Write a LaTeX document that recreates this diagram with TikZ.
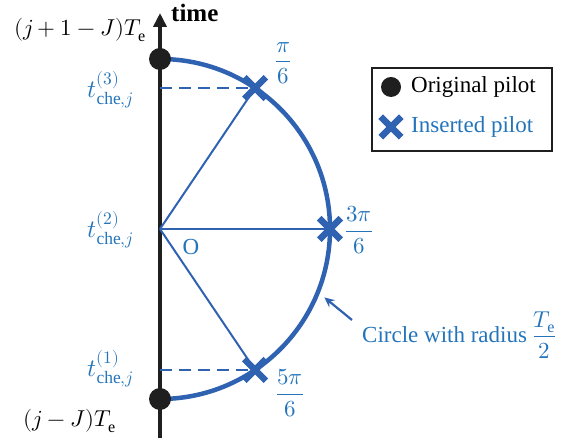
\documentclass[tikz,border=0pt]{standalone}
\usepackage{fontspec}
\usepackage{unicode-math}
\setmainfont{Liberation Serif}
\setmathfont{Latin Modern Math}
\usetikzlibrary{shapes.misc,arrows.meta}
\definecolor{sblue}{RGB}{47,99,178}
\definecolor{tblue}{RGB}{35,116,186}
\begin{document}
\begin{tikzpicture}[x=1pt,y=1pt,
  every node/.style={font=\fontsize{23}{27}\selectfont, inner sep=0pt},
  dot/.style={circle, fill=black!88, minimum size=22pt},
  xmark/.style={cross out, draw=sblue, line width=6.5pt, minimum size=15pt},
  spoke/.style={draw=sblue, line width=2pt},
  dashline/.style={draw=sblue, line width=2.5pt, dash pattern=on 12pt off 7pt},
  bluetext/.style={text=tblue},
]
\useasboundingbox (0,0) rectangle (580,443);
% axis
\coordinate (axb) at (160,5);
\coordinate (axt) at (160,430);
\draw[line width=4.5pt, black!88, -{Triangle[width=13pt,length=14pt]}] (axb) -- (axt);
\node[anchor=west, font=\fontsize{25}{29}\selectfont\bfseries] (time) at (171,430) {time};
% circle
\coordinate (O) at (160,214);
\draw[sblue, line width=4.5pt] (160,384) arc[start angle=90, end angle=-90, radius=170];
% crosses positions
\path (O) ++(56:170) coordinate (pa);
\path (O) ++(0:170) coordinate (pb);
\path (O) ++(-56:170) coordinate (pc);
\path (pa) -| coordinate (ya) (O);
\path (pc) -| coordinate (yc) (O);
% dashed
\draw[dashline] (ya) -- (pa);
\draw[dashline] (yc) -- (pc);
% spokes
\draw[spoke] (O) -- (pa);
\draw[spoke] (O) -- (pb);
\draw[spoke] (O) -- (pc);
% dots
\node[dot] (dtop) at (160,384) {};
\node[dot] (dbot) at (160,44) {};
% crosses
\node[xmark] (xa) at (pa) {};
\node[xmark] (xb) at (pb) {};
\node[xmark] (xc) at (pc) {};
% labels
\node[anchor=east] (ltop) at (146,413) {$(j+1-J)T_{\mathrm{e}}$};
\node[anchor=east] (lbot) at (116,22) {$(j-J)T_{\mathrm{e}}$};
\node[anchor=east, bluetext, font=\fontsize{25}{29}\selectfont] (t3) at (134,353) {$t_{\mathrm{che},j}^{(3)}$};
\node[anchor=east, bluetext, font=\fontsize{25}{29}\selectfont] (t2) at (134,213) {$t_{\mathrm{che},j}^{(2)}$};
\node[anchor=east, bluetext, font=\fontsize{25}{29}\selectfont] (t1) at (134,74) {$t_{\mathrm{che},j}^{(1)}$};
\node[bluetext] (Olab) at (191,196) {O};
\node[bluetext] (fa) at (283,380) {$\dfrac{\pi}{6}$};
\node[bluetext, anchor=west] (fb) at (345,213) {$\dfrac{3\pi}{6}$};
\node[bluetext] (fc) at (290,50) {$\dfrac{5\pi}{6}$};
% circle annotation
\node[bluetext, anchor=west] (circ) at (362,108) {Circle with radius $\dfrac{T_{\mathrm{e}}}{2}$};
\coordinate (arS) at (352,123);
\path (O) ++(-22.6:178) coordinate (arE);
\draw[sblue, line width=2.2pt, -{Stealth[length=10pt,width=9pt]}] (arS) -- (arE);
% legend
\node[draw=black!88, line width=2pt, minimum width=180pt, minimum height=83pt, anchor=north west] (legend) at (371,376) {};
\node[dot, minimum size=20pt] (ldot) at (391,356) {};
\node[anchor=west] (lt1) at (411,356) {Original pilot};
\node[xmark, minimum size=14pt] (lx) at (391,316) {};
\node[anchor=west, bluetext] (lt2) at (411,316) {Inserted pilot};
\end{tikzpicture}
\end{document}
